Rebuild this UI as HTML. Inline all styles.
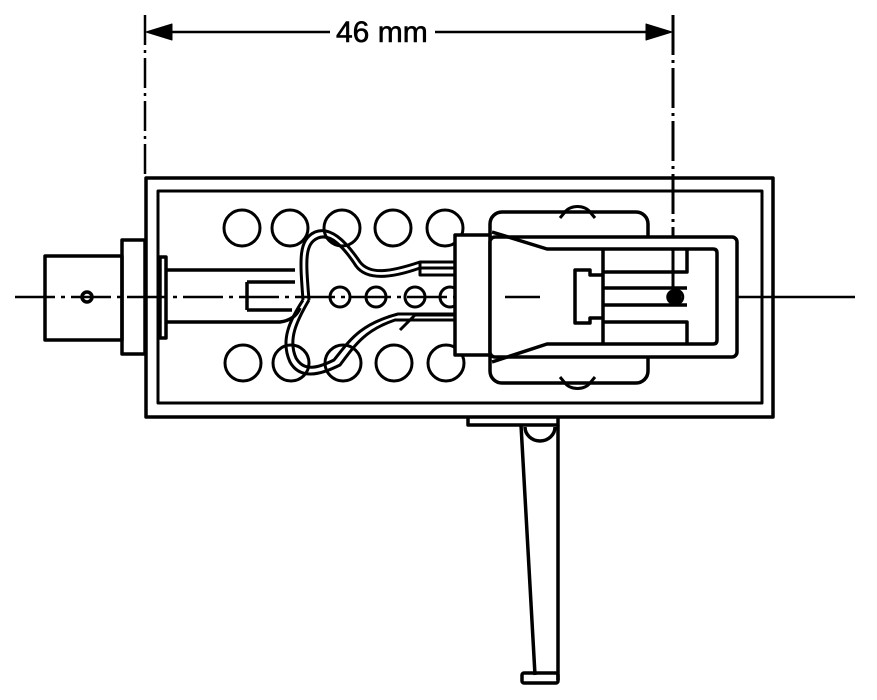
<!DOCTYPE html>
<html><head><style>html,body{margin:0;padding:0;background:#fff;width:877px;height:700px;overflow:hidden}</style></head>
<body>
<svg width="877" height="700" viewBox="0 0 877 700" xmlns="http://www.w3.org/2000/svg" fill="none" stroke="#000" stroke-width="3.5" stroke-linejoin="round">
<!-- dimension -->
<line x1="145" y1="15" x2="145" y2="178" stroke-width="2.5" stroke-dasharray="30,5,3,5"/>
<line x1="673" y1="15" x2="673" y2="292" stroke-width="3" stroke-dasharray="40,5,3,5"/>
<line x1="150" y1="32" x2="330" y2="32" stroke-width="2.5"/>
<line x1="435" y1="32" x2="668" y2="32" stroke-width="2.5"/>
<polygon points="146,32 172,24 172,40" fill="#000" stroke-width="1"/>
<polygon points="672,32 646,24 646,40" fill="#000" stroke-width="1"/>
<text x="336" y="42" font-family="Liberation Sans, sans-serif" font-size="30" fill="#000" stroke="#000" stroke-width="0.6">46 mm</text>
<!-- headshell -->
<rect x="146" y="178" width="627" height="239"/>
<rect x="158" y="191" width="604" height="212" stroke-width="3"/>
<!-- connector -->
<rect x="45" y="256" width="77" height="84"/>
<rect x="122" y="240" width="23" height="114"/>
<rect x="160" y="257" width="6" height="81"/>
<circle cx="87" cy="297" r="5"/>
<path d="M166 270 H295 M166 322 H280 Q295 320 300 308 M247 282 H295 M247 310 H292 M247 282 V310"/>
<!-- holes -->
<g stroke-width="3">
<circle cx="242" cy="228" r="18"/><circle cx="290" cy="228" r="18"/><circle cx="342" cy="228" r="18"/><circle cx="393" cy="228" r="18"/><circle cx="445" cy="228" r="18"/>
<circle cx="243" cy="363" r="18"/><circle cx="291" cy="363" r="18"/><circle cx="343" cy="363" r="18"/><circle cx="394" cy="363" r="18"/><circle cx="446" cy="363" r="18"/>
<circle cx="340" cy="297" r="10"/><circle cx="376" cy="297" r="10"/><circle cx="415" cy="297" r="10"/><circle cx="450" cy="297" r="10"/>
</g>
<!-- centerline -->
<line x1="15" y1="297" x2="540" y2="297" stroke-width="2.5" stroke-dasharray="40,6,4,6"/>
<line x1="703" y1="297" x2="855" y2="297" stroke-width="2.5"/>
<!-- wires -->
<g stroke-width="3">
<path d="M303 300 C300 260 298 240 315 232 C330 226 345 240 360 262 C370 275 390 272 420 262 H455"/>
<path d="M309 300 C306 262 304 244 318 238 C330 233 343 246 356 266 C367 281 392 278 420 268 H455"/>
<path d="M303 300 C290 320 280 340 290 362 C300 380 320 375 340 365 C355 345 365 330 395 320 H455"/>
<path d="M309 300 C296 322 288 340 296 358 C304 372 318 368 334 360 C350 340 360 324 398 314 H455"/>
<path d="M420 262 V275 H455 M420 268 H455 M400 330 L415 315 H455"/>
</g>
<!-- cartridge -->
<rect x="490" y="212" width="158" height="171" rx="12" fill="#fff"/>
<path d="M560 218 L565 212 A14 10 0 0 1 590 212 L595 218 M560 377 L565 383 A14 10 0 0 0 590 383 L595 377" stroke-width="3"/>
<rect x="455" y="235" width="35" height="120" fill="#fff"/>
<rect x="490" y="237" width="247" height="120" rx="5" fill="#fff"/>
<path d="M492 232 L547 249 H713 Q717 249 717 253 V340 Q717 344 713 344 H547 L492 362"/>
<line x1="603" y1="249" x2="603" y2="344"/>
<path d="M603 275 H590 V270 H575 V323 H590 V318 H603"/>
<path d="M603 272 H687 V249 M603 288 H687 M603 305 H687 M603 322 H687 V344"/>
<line x1="505" y1="297" x2="540" y2="297" stroke-width="2.5"/>
<line x1="673" y1="249" x2="673" y2="292" stroke-width="3"/>
<path d="M676 290 A7 7 0 0 1 676 304" stroke-width="2.5"/>
<circle cx="674" cy="297" r="6" fill="#000"/>
<!-- arm -->
<path d="M468 417 V425 H558 V417"/>
<path d="M521 425 L535 675 M558 425 V680"/>
<path d="M525 427 A15 14 0 0 0 555 427"/>
<rect x="522" y="673" width="36" height="10" rx="2"/>
</svg>
</body></html>
